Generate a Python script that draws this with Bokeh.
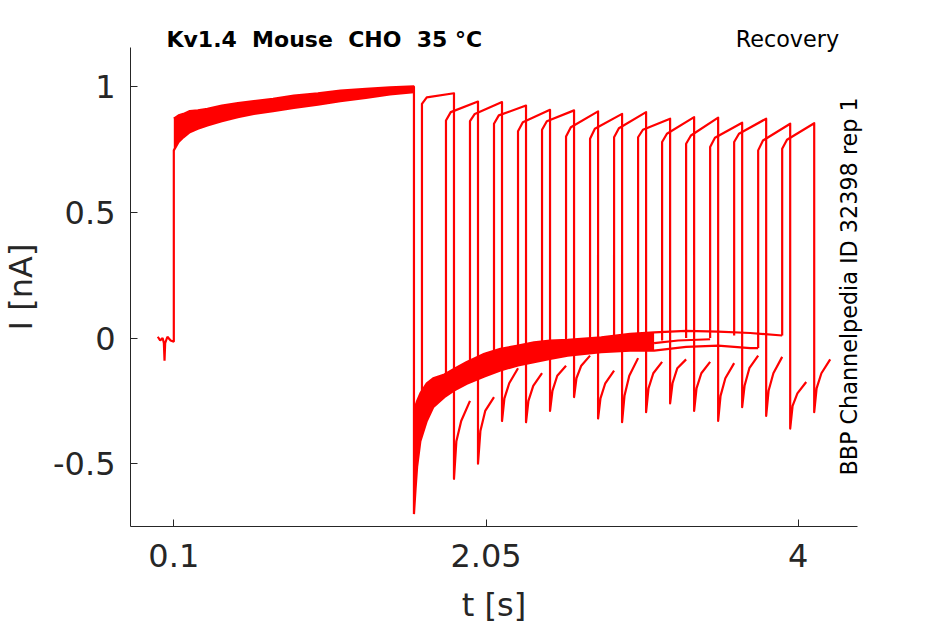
import numpy as np
from bokeh.plotting import figure
from bokeh.models import Range1d, FixedTicker, Label
from bokeh.embed import file_html
from bokeh.resources import INLINE

RED = "#ff0000"
INK = "#262626"
FONT = "DejaVu Sans"

# holding current before the conditioning step (all sweeps overlap)
hold_t = [0.0, 0.015, 0.03, 0.038, 0.042, 0.046, 0.06, 0.08, 0.1]
hold_i = [0.005, -0.01, 0.0, -0.02, -0.09, -0.02, 0.005, -0.01, -0.015]

# conditioning pulse: upper / lower edge of the overlapping sweeps
pre_t = [0.1, 0.13, 0.16, 0.2, 0.25, 0.31, 0.4, 0.5, 0.6, 0.72, 0.85, 1.0, 1.14, 1.3, 1.45, 1.6]
pre_hi = [0.872, 0.885, 0.891, 0.902, 0.905, 0.911, 0.924, 0.934, 0.942, 0.951, 0.964, 0.973, 0.984, 0.991, 0.997, 1.0]
pre_lo = [0.746, 0.779, 0.798, 0.818, 0.832, 0.845, 0.862, 0.878, 0.891, 0.902, 0.915, 0.928, 0.942, 0.955, 0.968, 0.977]

# recovery at the holding potential: edges of the overlapping sweeps
rec_t = [1.6, 1.61, 1.62, 1.64, 1.68, 1.72, 1.79, 1.85, 1.93, 2.04, 2.14, 2.25, 2.35, 2.45, 2.56, 2.77, 2.95, 3.1]
rec_hi = [-0.30, -0.27, -0.25, -0.22, -0.18, -0.16, -0.145, -0.123, -0.095, -0.063, -0.043, -0.03, -0.017, -0.01, -0.007, 0.003, 0.017, 0.022]
rec_lo = [-0.70, -0.60, -0.51, -0.41, -0.33, -0.275, -0.235, -0.209, -0.182, -0.153, -0.129, -0.109, -0.096, -0.083, -0.07, -0.056, -0.05, -0.05]

# the longest sweeps after the band thins out
late_hi_t = [3.1, 3.3, 3.5, 3.7, 3.9]
late_hi_i = [0.022, 0.028, 0.025, 0.02, 0.01]
late_mid_t = [3.1, 3.25, 3.45]
late_mid_i = [-0.02, -0.01, -0.005]
late_lo_t = [3.1, 3.3, 3.5, 3.7, 3.75]
late_lo_i = [-0.05, -0.035, -0.03, -0.04, -0.04]

# test pulses, one per sweep
test_on = [1.65, 1.80, 1.95, 2.10, 2.25, 2.40, 2.55, 2.70, 2.85, 3.00, 3.15, 3.30, 3.45, 3.60, 3.75, 3.90]
pulse_len = 0.2
knee = 0.03
tail_dt = [0.0, 0.015, 0.045, 0.1]
base = [-0.30, -0.18, -0.13, -0.09, -0.07, -0.04, -0.04, -0.03, -0.02, -0.02, -0.01, 0.0, 0.0, 0.01, -0.04, 0.01]
peak_a = [0.931, 0.865, 0.862, 0.852, 0.822, 0.828, 0.801, 0.792, 0.798, 0.798, 0.779, 0.772, 0.759, 0.779, 0.746, 0.752]
peak_b = [0.957, 0.898, 0.891, 0.885, 0.858, 0.862, 0.838, 0.832, 0.834, 0.828, 0.812, 0.805, 0.796, 0.812, 0.785, 0.788]
peak_c = [0.973, 0.940, 0.938, 0.924, 0.907, 0.905, 0.901, 0.891, 0.898, 0.872, 0.878, 0.876, 0.856, 0.872, 0.852, 0.854]
tail = [
    [-0.56, -0.41, -0.33, -0.25],
    [-0.50, -0.37, -0.29, -0.235],
    [-0.33, -0.24, -0.18, -0.12],
    [-0.335, -0.25, -0.19, -0.14],
    [-0.29, -0.21, -0.15, -0.11],
    [-0.235, -0.16, -0.11, -0.07],
    [-0.32, -0.24, -0.18, -0.13],
    [-0.335, -0.23, -0.15, -0.08],
    [-0.295, -0.20, -0.14, -0.095],
    [-0.26, -0.18, -0.12, -0.085],
    [-0.29, -0.20, -0.14, -0.095],
    [-0.33, -0.23, -0.16, -0.10],
    [-0.275, -0.19, -0.12, -0.07],
    [-0.31, -0.21, -0.14, -0.075],
    [-0.36, -0.27, -0.22, -0.175],
    [-0.295, -0.20, -0.14, -0.085],
]

x_ticks = [0.1, 2.05, 4]
y_ticks = [-0.5, 0, 0.5, 1]
x_lim = (-0.1705, 4.3685)
y_lim = (-0.7494, 1.1551)

# the frame fills the whole canvas; the axes sit at fixed positions inside it
p = figure(width=945, height=624, output_backend="svg", toolbar_location=None,
           x_range=Range1d(-0.9825, 4.9201), y_range=Range1d(-1.1390, 1.3418),
           min_border=0)
p.outline_line_color = None
p.grid.visible = False
p.background_fill_color = "white"
p.border_fill_color = "white"

# bands of overlapping sweeps
p.varea(x=pre_t, y1=pre_lo, y2=pre_hi, fill_color=RED)
p.varea(x=rec_t, y1=rec_lo, y2=rec_hi, fill_color=RED)
p.line(hold_t + pre_t, hold_i + pre_lo, line_color=RED, line_width=2.2)
p.line(pre_t + rec_t + late_lo_t, pre_hi + rec_lo + late_lo_i, line_color=RED, line_width=2.2)
p.line(rec_t + late_hi_t, rec_hi + late_hi_i, line_color=RED, line_width=2.2)
p.line(late_mid_t, late_mid_i, line_color=RED, line_width=2.2)

# test pulse and tail of every sweep
xs, ys = [], []
for k, t0 in enumerate(test_on):
    t1 = t0 + pulse_len
    xs.append([t0, t0, t0 + knee, t1] + [t1 + d for d in tail_dt])
    ys.append([base[k], peak_a[k], peak_b[k], peak_c[k]] + tail[k])
p.multi_line(xs, ys, line_color=RED, line_width=2.2, line_join="round")

for ax in (p.xaxis[0], p.yaxis[0]):
    ax.axis_line_color = INK
    ax.major_tick_line_color = INK
    ax.major_tick_in = 7
    ax.major_tick_out = 0
    ax.minor_tick_line_color = None
    ax.major_label_text_font = FONT
    ax.major_label_text_font_size = "32px"
    ax.major_label_text_color = INK
    ax.axis_label_text_font = FONT
    ax.axis_label_text_font_size = "32px"
    ax.axis_label_text_font_style = "normal"
    ax.axis_label_text_color = INK

p.xaxis.fixed_location = y_lim[0]
p.yaxis.fixed_location = x_lim[0]
p.xaxis.bounds = x_lim
p.yaxis.bounds = y_lim
p.xaxis.ticker = FixedTicker(ticks=x_ticks)
p.yaxis.ticker = FixedTicker(ticks=y_ticks)
p.xaxis.major_label_overrides = {0.1: "0.1", 2.05: "2.05", 4: "4"}
p.yaxis.major_label_overrides = {-0.5: "-0.5", 0: "0", 0.5: "0.5", 1: "1"}
p.xaxis.axis_label = "t [s]"
p.yaxis.axis_label = "I [nA]"
p.xaxis.major_label_standoff = 17
p.yaxis.major_label_standoff = 15
p.xaxis.axis_label_standoff = 16
p.yaxis.axis_label_standoff = 10

p.add_layout(Label(x=0.054, y=1.187, text="Kv1.4\u00a0 Mouse\u00a0 CHO\u00a0 35 °C", text_font=FONT,
                   text_font_size="22px", text_font_style="bold", text_color="black",
                   text_baseline="alphabetic"))
p.add_layout(Label(x=3.61, y=1.189, text="Recovery", text_font=FONT,
                   text_font_size="22.3px", text_color="black", text_baseline="alphabetic"))
p.add_layout(Label(x=4.318, y=-0.547, text="BBP Channelpedia ID 32398 rep 1", text_font=FONT,
                   text_font_size="22.3px", text_color="black", angle=np.pi / 2,
                   text_align="left", text_baseline="alphabetic"))

open("out.html", "w").write(file_html(p, INLINE))
